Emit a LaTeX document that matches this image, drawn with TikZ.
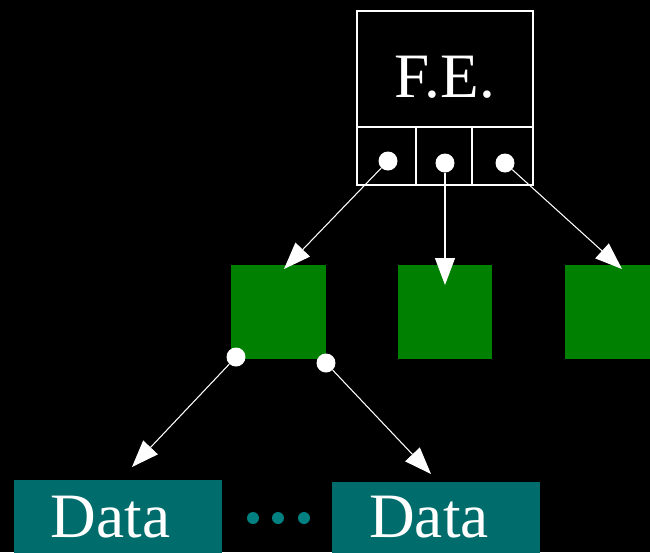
\documentclass[tikz,border=0pt]{standalone}
\usepackage{fontspec}
\setmainfont{Liberation Serif}
\usetikzlibrary{arrows.meta, positioning}
\definecolor{leafgreen}{RGB}{0,128,0}
\definecolor{datateal}{RGB}{0,108,108}
\definecolor{dotteal}{RGB}{0,128,128}

\begin{document}
\begin{tikzpicture}[x=0.02cm, y=-0.02cm,
    fe/.style={rectangle, draw=white, line width=0.6pt, minimum width=3.52cm, minimum height=2.32cm, inner sep=0},
    slot/.style={rectangle, draw=white, line width=0.6pt, minimum height=1.16cm, inner sep=0},
    port/.style={circle, fill=white, inner sep=0, minimum size=0.38cm},
    leaf/.style={rectangle, fill=leafgreen, minimum width=1.9cm, minimum height=1.88cm, inner sep=0},
    databox/.style={rectangle, fill=datateal, minimum width=4.16cm, minimum height=1.7cm, inner sep=0},
    gap/.style={circle, fill=dotteal, inner sep=0, minimum size=0.24cm},
    bigtext/.style={text=white, font=\fontsize{36}{40}\selectfont, inner sep=0},
    arrow/.style={draw=white, line width=0.6pt, -{Triangle[length=0.54cm, width=0.4cm]}}]

    % Background
    \path [use as bounding box, fill=black] (0,0) rectangle (650,552);

    % F.E. box
    \node [fe] (fe) at (445,69) {};
    \node [bigtext] (felabel) at (445,77) {F.E.};
    \node [slot, minimum width=1.18cm] (slot1) at (386.5,156) {};
    \node [slot, minimum width=1.12cm] (slot2) at (444,156) {};
    \node [slot, minimum width=1.22cm] (slot3) at (502.5,156) {};

    % Green blocks
    \node [leaf] (leaf1) at (278.5,312) {};
    \node [leaf] (leaf2) at (445,312) {};
    \node [leaf] (leaf3) at (612.5,312) {};

    % Data blocks
    \node [databox] (data1) at (118,522) {};
    \node [databox] (data2) at (436,524) {};
    \node [bigtext] (data1label) at (110.5,517) {Data};
    \node [bigtext] (data2label) at (429,517) {Data};
    \node [gap] (gap1) at (253,518) {};
    \node [gap] (gap2) at (278,518) {};
    \node [gap] (gap3) at (304,518) {};

    % Arrow ends
    \coordinate (leaf1in) at (284,269);
    \coordinate (leaf2in) at (445,285);
    \coordinate (leaf3in) at (622,269);
    \coordinate (data1in) at (132,467);
    \coordinate (data2in) at (431,474);

    % Ports
    \node [port] (fe1) at (388,161) {};
    \node [port] (fe2) at (445,163) {};
    \node [port] (fe3) at (505,163) {};
    \node [port] (leafport1) at (236,357) {};
    \node [port] (leafport2) at (326,363) {};

    % Arrows
    \draw [arrow] (fe1) -- (leaf1in);
    \draw [arrow] (fe2) -- (leaf2in);
    \draw [arrow] (fe3) -- (leaf3in);
    \draw [arrow] (leafport1) -- (data1in);
    \draw [arrow] (leafport2) -- (data2in);
\end{tikzpicture}
\end{document}
